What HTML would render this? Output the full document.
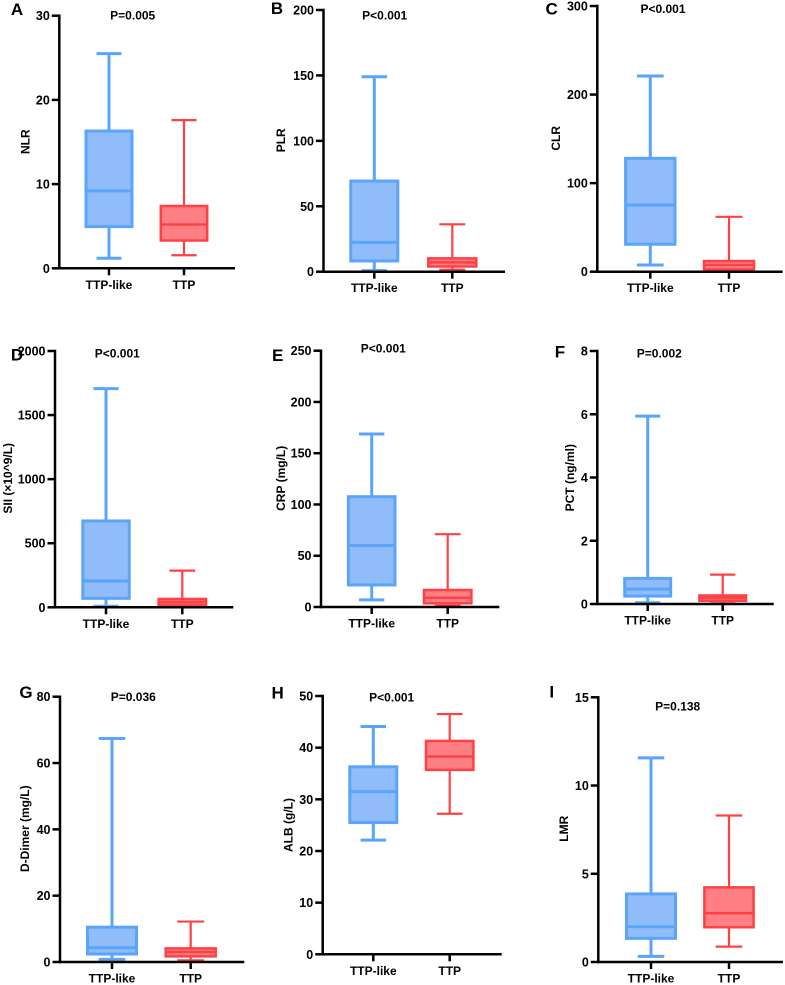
<!DOCTYPE html>
<html lang="en">
<head>
<meta charset="utf-8">
<title>Boxplots of TTP-like vs TTP</title>
<style>
html,body{margin:0;padding:0;background:#fff;}
svg{display:block;font-family:"Liberation Sans",Arial,sans-serif;font-weight:bold;}
</style>
</head>
<body>
<svg id="chart" width="785" height="985" viewBox="0 0 785 985" xmlns="http://www.w3.org/2000/svg"></svg>
<script>
const categories = ['TTP-like', 'TTP'];
const panelLetters = ['A', 'B', 'C', 'D', 'E', 'F', 'G', 'H', 'I'];
const measureTitles = ['NLR', 'PLR', 'CLR', 'SII (×10^9/L)', 'CRP (mg/L)', 'PCT (ng/ml)', 'D-Dimer (mg/L)', 'ALB (g/L)', 'LMR'];
const pValues = ['P=0.005', 'P<0.001', 'P<0.001', 'P<0.001', 'P<0.001', 'P=0.002', 'P=0.036', 'P<0.001', 'P=0.138'];

const ticksA = [0, 10, 20, 30];
const ticksB = [0, 50, 100, 150, 200];
const ticksC = [0, 100, 200, 300];
const ticksD = [0, 500, 1000, 1500, 2000];
const ticksE = [0, 50, 100, 150, 200, 250];
const ticksF = [0, 2, 4, 6, 8];
const ticksG = [0, 20, 40, 60, 80];
const ticksH = [0, 10, 20, 30, 40, 50];
const ticksI = [0, 5, 10, 15];
const allTicks = [ticksA, ticksB, ticksC, ticksD, ticksE, ticksF, ticksG, ticksH, ticksI];

/* five-number summaries: min, q1, median, q3, max */
const likeA = [1.2, 4.95, 9.2, 16.3, 25.5];
const ttpA = [1.55, 3.3, 5.2, 7.4, 17.6];
const likeB = [0.8, 8.2, 22.4, 69.3, 149];
const ttpB = [1.5, 4, 7.1, 10.2, 36.2];
const likeC = [7.5, 31, 75.3, 128, 221];
const ttpC = [1, 2.6, 7.5, 12, 62];
const likeD = [8, 70, 205, 674, 1706];
const ttpD = [5, 18, 40, 65, 286];
const likeE = [7, 21.5, 60, 107.6, 168.7];
const ttpE = [1.3, 3.6, 9, 16.6, 71];
const likeF = [0.04, 0.25, 0.47, 0.81, 5.94];
const ttpF = [0.02, 0.1, 0.2, 0.27, 0.93];
const likeG = [0.8, 2.4, 4.3, 10.5, 67.4];
const ttpG = [0.5, 1.7, 3, 4.1, 12.2];
const likeH = [22.1, 25.5, 31.5, 36.3, 44.1];
const ttpH = [27.2, 35.7, 38.3, 41.3, 46.5];
const likeI = [0.32, 1.34, 2, 3.86, 11.57];
const ttpI = [0.87, 1.97, 2.76, 4.23, 8.3];
const likeSeries = [likeA, likeB, likeC, likeD, likeE, likeF, likeG, likeH, likeI];
const ttpSeries = [ttpA, ttpB, ttpC, ttpD, ttpE, ttpF, ttpG, ttpH, ttpI];

/* panel layout, kept apart from the data */
const layout = [
  {ax:59.3, top:15.7, bottom:268.3, end:235, c1:109, c2:184, hw1:23, hw2:23.2, letter:[17,15], p:[132.7,19.3], yl:[29.3,141.7]},
  {ax:323.5, top:10, bottom:271.7, end:505, c1:374.3, c2:452.3, hw1:23.5, hw2:24, letter:[277,14], p:[384.7,19.3], yl:[285,140.3]},
  {ax:597.3, top:6, bottom:271.7, end:782.7, c1:650.3, c2:729, hw1:24.7, hw2:25, letter:[551.7,14.7], p:[663,13], yl:[560,138.3]},
  {ax:55, top:351, bottom:607.3, end:233.3, c1:106, c2:182.3, hw1:23.2, hw2:23.7, letter:[17,360.7], p:[117.3,357.3], yl:[12,478.3]},
  {ax:321, top:350.7, bottom:607, end:499.3, c1:371.7, c2:447.7, hw1:23.3, hw2:23.7, letter:[277.7,361], p:[383.3,352.3], yl:[285,478.3]},
  {ax:597.3, top:351, bottom:604, end:773.7, c1:647.7, c2:722.7, hw1:23, hw2:23.3, letter:[560,357.7], p:[659.3,357.7], yl:[574,477.7]},
  {ax:60, top:696.7, bottom:962, end:244.3, c1:112, c2:190.7, hw1:24.5, hw2:25, letter:[26,698], p:[133.3,701], yl:[29,828.7]},
  {ax:322.7, top:696, bottom:954.3, end:501.7, c1:373.3, c2:449.7, hw1:23.5, hw2:23.7, letter:[277.7,698.3], p:[391.7,701.7], yl:[292.3,825]},
  {ax:598.3, top:697.3, bottom:962, end:783, c1:651, c2:729, hw1:24.5, hw2:24.6, letter:[551.7,697.3], p:[677.7,710.7], yl:[568,828.7]}
];

const SVGNS = 'http://www.w3.org/2000/svg';
const root = document.getElementById('chart');

function make(parent, tag, attrs, name) {
  const el = document.createElementNS(SVGNS, tag);
  for (const k in attrs) el.setAttribute(k, attrs[k]);
  
  
  parent.appendChild(el);
  return el;
}
function line(parent, x1, y1, x2, y2, color, w, name) {
  return make(parent, 'line', {x1: x1, y1: y1, x2: x2, y2: y2, stroke: color, 'stroke-width': w}, name);
}
function text(parent, x, y, str, size, anchor, name, extra) {
  const el = make(parent, 'text', Object.assign({x: x, y: y, 'font-size': size, 'text-anchor': anchor, fill: '#000'}, extra || {}), name);
  el.textContent = str;
  return el;
}
function drawBox(g, cx, hw, values, scale, stroke, fill, sw, wsw, name) {
  const min = scale(values[0]), q1 = scale(values[1]), med = scale(values[2]), q3 = scale(values[3]), max = scale(values[4]);
  const capHw = hw / 2 + 1;
  line(g, cx, q3, cx, max, stroke, wsw, name + '-upper-whisker');
  line(g, cx, q1, cx, min, stroke, wsw, name + '-lower-whisker');
  line(g, cx - capHw, max, cx + capHw, max, stroke, wsw, name + '-upper-cap');
  line(g, cx - capHw, min, cx + capHw, min, stroke, wsw, name + '-lower-cap');
  make(g, 'rect', {x: cx - hw, y: q3, width: hw * 2, height: q1 - q3, fill: fill, stroke: stroke, 'stroke-width': sw}, name + '-box');
  line(g, cx - hw, med, cx + hw, med, stroke, sw, name + '-median');
}

layout.forEach(function (p, i) {
  const ticks = allTicks[i];
  const tMax = ticks[ticks.length - 1];
  const scale = function (v) { return p.bottom - (v / tMax) * (p.bottom - p.top); };
  const id = panelLetters[i].toLowerCase();
  const g = make(root, 'g', {}, 'panel-' + id);

  drawBox(g, p.c1, p.hw1, likeSeries[i], scale, '#5aa5fb', '#90bdf9', 3, 3, 'ttp-like-' + id);
  drawBox(g, p.c2, p.hw2, ttpSeries[i], scale, '#ff4045', '#ff8084', 2.5, 2.2, 'ttp-' + id);

  line(g, p.ax, p.top - 1.2, p.ax, p.bottom + 1.2, '#000', 2.5, 'y-axis-' + id);
  line(g, p.ax, p.bottom, p.end, p.bottom, '#000', 2.5, 'x-axis-' + id);

  ticks.forEach(function (t) {
    const y = scale(t);
    line(g, p.ax - 7.5, y, p.ax, y, '#000', 2.5, 'y-tick-' + id);
    text(g, p.ax - 9.5, y + 4.5, String(t), 12.5, 'end', 'y-tick-label-' + id);
  });
  categories.forEach(function (c, k) {
    const x = k === 0 ? p.c1 : p.c2;
    line(g, x, p.bottom, x, p.bottom + 7, '#000', 2.5, 'x-tick-' + id);
    text(g, x, p.bottom + 20.5, c, 12, 'middle', 'x-tick-label-' + id);
  });

  text(g, p.letter[0], p.letter[1], panelLetters[i], 17, 'middle', 'panel-letter-' + id);
  text(g, p.p[0], p.p[1], pValues[i], 12, 'middle', 'p-value-' + id);
  text(g, p.yl[0], p.yl[1], measureTitles[i], 12, 'middle', 'y-axis-title-' + id,
       {transform: 'rotate(-90 ' + p.yl[0] + ' ' + p.yl[1] + ')'});
});
</script>
</body>
</html>
